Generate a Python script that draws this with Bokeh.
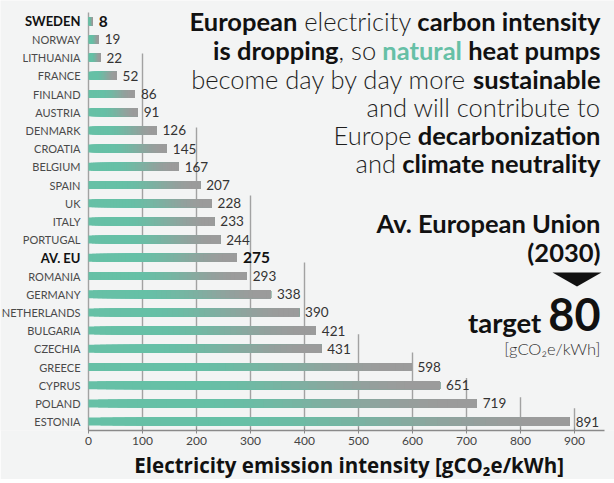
import os
import subprocess
from bokeh.plotting import figure
from bokeh.models import (Range1d, Label, ColumnDataSource, FixedTicker,
                          PolyAnnotation, Title)
from bokeh.embed import file_html
from bokeh.resources import INLINE
from bokeh.core.properties import value

# ---------------- data ----------------
countries = ["SWEDEN", "NORWAY", "LITHUANIA", "FRANCE", "FINLAND", "AUSTRIA",
             "DENMARK", "CROATIA", "BELGIUM", "SPAIN", "UK", "ITALY",
             "PORTUGAL", "AV. EU", "ROMANIA", "GERMANY", "NETHERLANDS",
             "BULGARIA", "CZECHIA", "GREECE", "CYPRUS", "POLAND", "ESTONIA"]
emissions = [8, 19, 22, 52, 86, 91, 126, 145, 167, 207, 228, 233, 244, 275,
             293, 338, 390, 421, 431, 598, 651, 719, 891]
highlighted = ["SWEDEN", "AV. EU"]
x_ticks = [0, 100, 200, 300, 400, 500, 600, 700, 800, 900]
target_value = "80"
target_year = "(2030)"
unit_text = "[gCO₂e/kWh]"
axis_title = "Electricity emission intensity [gCO₂e/kWh]"

# ---------------- style / layout ----------------
BG = "#f3f4f4"
TEAL = (102, 192, 166)
GRAY = (155, 155, 155)
FW, FH = 614, 430
PX_PER_UNIT = 0.54
ZERO_PX = 88
XS = -ZERO_PX / PX_PER_UNIT
XE = XS + FW / PX_PER_UNIT
AXIS_END = (604 - ZERO_PX) / PX_PER_UNIT
ROW_PX = 18.2
FIRST_ROW_PX = 20.7
Y_TOP = -FIRST_ROW_PX / ROW_PX
Y_BOT = Y_TOP + FH / ROW_PX
# staircase gridline tops (row units)
grid_tops = [-0.48, 1.77, 5.84, 9.58, 13.26, 17.2, 18.2, 19.6, 20.66, 21.27]


def dx(sx):
    return XS + sx / FW * (XE - XS)


def dy(sy):
    return Y_TOP + sy / FH * (Y_BOT - Y_TOP)


# ---------------- text measuring ----------------
_ff = {}


def font_file(pattern):
    if pattern in _ff:
        return _ff[pattern]
    f = None
    try:
        out = subprocess.run(["fc-match", "-f", "%{file}", pattern],
                             capture_output=True, text=True, timeout=5).stdout.strip()
        if out and os.path.exists(out):
            f = out
    except Exception:
        f = None
    _ff[pattern] = f
    return f


def text_w(s, pattern, size, fallback=0.55):
    f = font_file(pattern)
    if f:
        try:
            from PIL import ImageFont
            return ImageFont.truetype(f, 100).getlength(s) * size / 100.0
        except Exception:
            pass
    return len(s) * size * fallback


def fit_size(s, pattern, target_px):
    w = text_w(s, pattern, 100)
    return round(100 * target_px / w * 2) / 2 if w > 0 else 16


STY = {
    "b": ("Lato", "bold", "Lato:bold", "#111111"),
    "l": ("Lato Light", "normal", "Lato:light", "#1e1e1e"),
    "n": ("Lato", "bold", "Lato:bold", "#66c0a6"),
}

# ---------------- figure ----------------
p = figure(frame_width=FW, frame_height=FH,
           x_range=Range1d(XS, XE), y_range=Range1d(Y_BOT, Y_TOP),
           output_backend="svg", toolbar_location=None,
           min_border_left=0, min_border_right=0, min_border_top=0,
           min_border_bottom=0)
p.background_fill_color = BG
p.border_fill_color = BG
p.outline_line_color = None
p.xgrid.visible = False
p.ygrid.visible = False
p.yaxis.visible = False

xa = p.xaxis[0]
xa.ticker = FixedTicker(ticks=x_ticks)
xa.bounds = (0, AXIS_END)
xa.axis_line_color = "#8a8a8a"
xa.axis_line_width = 1.5
xa.major_tick_line_color = "#8a8a8a"
xa.major_tick_in = 3
xa.major_tick_out = 3
xa.minor_tick_line_color = None
xa.major_label_text_font = "Lato"
xa.major_label_text_font_size = "12px"
xa.major_label_text_color = "#444444"
xa.major_label_standoff = 3

rows = list(range(len(countries)))

# staircase gridlines
p.segment(x0=x_ticks, x1=x_ticks, y0=[Y_BOT] * len(x_ticks), y1=grid_tops,
          line_color="#a2a2a2", line_width=1.4)

# gradient bars: slice k spans from value*k/N to the bar end
N = 40
ys, ls, rs, cs = [], [], [], []
for k in range(N):
    f = (k + 0.5) / N
    t = min(max((f - 0.28) / 0.67, 0.0), 1.0)
    t = t * t * (3 - 2 * t)
    col = "#%02x%02x%02x" % tuple(int(round(a + (b - a) * t)) for a, b in zip(TEAL, GRAY))
    for r, v in zip(rows, emissions):
        ys.append(r)
        ls.append(v * k / N)
        rs.append(v)
        cs.append(col)
p.hbar(y=ys, left=ls, right=rs, height=0.44, fill_color=cs, line_color=None)

# country and value labels
is_b = [c in highlighted for c in countries]
src = ColumnDataSource(dict(
    x=[0] * len(countries), y=rows, name=countries, val=[str(v) for v in emissions],
    vx=emissions,
    style=["bold" if b else "normal" for b in is_b],
    color=["#111111" if b else "#4a4a4a" for b in is_b],
    size=["13px" if b else "11px" for b in is_b],
    vsize=["15.5px" if b else "13.5px" for b in is_b],
    vcolor=["#111111" if b else "#333333" for b in is_b],
))
p.text(x="x", y="y", text="name", source=src, x_offset=-8,
       text_align="right", text_baseline="middle",
       text_font=value("Lato"), text_font_size="size",
       text_font_style="style", text_color="color")
p.text(x="vx", y="y", text="val", source=src, x_offset=6, y_offset=0,
       text_align="left", text_baseline="middle",
       text_font=value("Lato"), text_font_size="vsize",
       text_font_style="style", text_color="vcolor")

# ---------------- annotation text ----------------
lines = [
    [("European", "b"), (" electricity", "l"), (" carbon intensity", "b")],
    [("is dropping", "b"), (", so", "l"), (" natural", "n"), (" heat pumps", "b")],
    [("become day by day more", "l"), (" sustainable", "b")],
    [("and will contribute to", "l")],
    [("Europe", "l"), (" decarbonization", "b")],
    [("and", "l"), (" climate neutrality", "b")],
]
line_y = [20, 49, 78, 106, 134, 162]


def line_width(segs, size):
    w = 0
    for txt, st in segs:
        w += text_w(txt, STY[st][2], size)
    return w


ann_size = round(2 * 21 * 413 / line_width(lines[0], 21)) / 2
RIGHT = 600


def place_line(segs, sy, size, right=RIGHT, baseline="middle"):
    x = right
    for txt, st in reversed(segs):
        fam, fst, pat, col = STY[st]
        core = txt.lstrip(" ")
        p.add_layout(Label(x=dx(x), y=dy(sy), text=core, text_align="right",
                           text_baseline=baseline, text_font=fam,
                           text_font_style=fst, text_font_size=f"{size}px",
                           text_color=col))
        x -= text_w(core, pat, size)
        if txt.startswith(" "):
            x -= text_w(" ", pat, size)


for segs, sy in zip(lines, line_y):
    place_line(segs, sy, ann_size)

# Av. European Union (2030)
eu_size = fit_size("Av. European Union", "Lato:bold", 223)
for txt, sy in [("Av. European Union", 222), (target_year, 251)]:
    p.add_layout(Label(x=dx(RIGHT), y=dy(sy), text=txt, text_align="right",
                       text_baseline="middle", text_font="Lato",
                       text_font_style="bold", text_font_size=f"{eu_size}px",
                       text_color="#111111"))

# down arrow
p.add_layout(PolyAnnotation(xs=[dx(552), dx(601), dx(576.5)],
                            ys=[dy(272), dy(272), dy(286)],
                            fill_color="#111111", fill_alpha=1.0,
                            line_color=None))

# target 80
big = 45
p.add_layout(Label(x=dx(RIGHT), y=dy(314), text=target_value, text_align="right",
                   text_baseline="middle", text_font="Lato",
                   text_font_style="bold", text_font_size=f"{big}px",
                   text_color="#111111"))
tx = RIGHT - text_w(target_value, "Lato:bold", big) - 7
tsize = fit_size("target", "Lato:bold", 73)
p.add_layout(Label(x=dx(tx), y=dy(322), text="target", text_align="right",
                   text_baseline="middle", text_font="Lato",
                   text_font_style="bold", text_font_size=f"{tsize}px",
                   text_color="#111111"))
usize = fit_size(unit_text, "Lato:light", 95)
p.add_layout(Label(x=dx(RIGHT), y=dy(348), text=unit_text, text_align="right",
                   text_baseline="middle", text_font="Lato Light",
                   text_font_size=f"{usize}px", text_color="#333333"))

# axis title (below the axis)
asize = 20.5
aw = 20.7 * asize  # rendered width of the title per px of font size
p.add_layout(Title(text=axis_title, align="left", offset=346 - aw / 2,
                   standoff=2, text_font="Open Sans", text_font_style="bold",
                   text_font_size=f"{asize}px", text_color="#111111"), "below")

open("out.html", "w").write(file_html(p, INLINE))
